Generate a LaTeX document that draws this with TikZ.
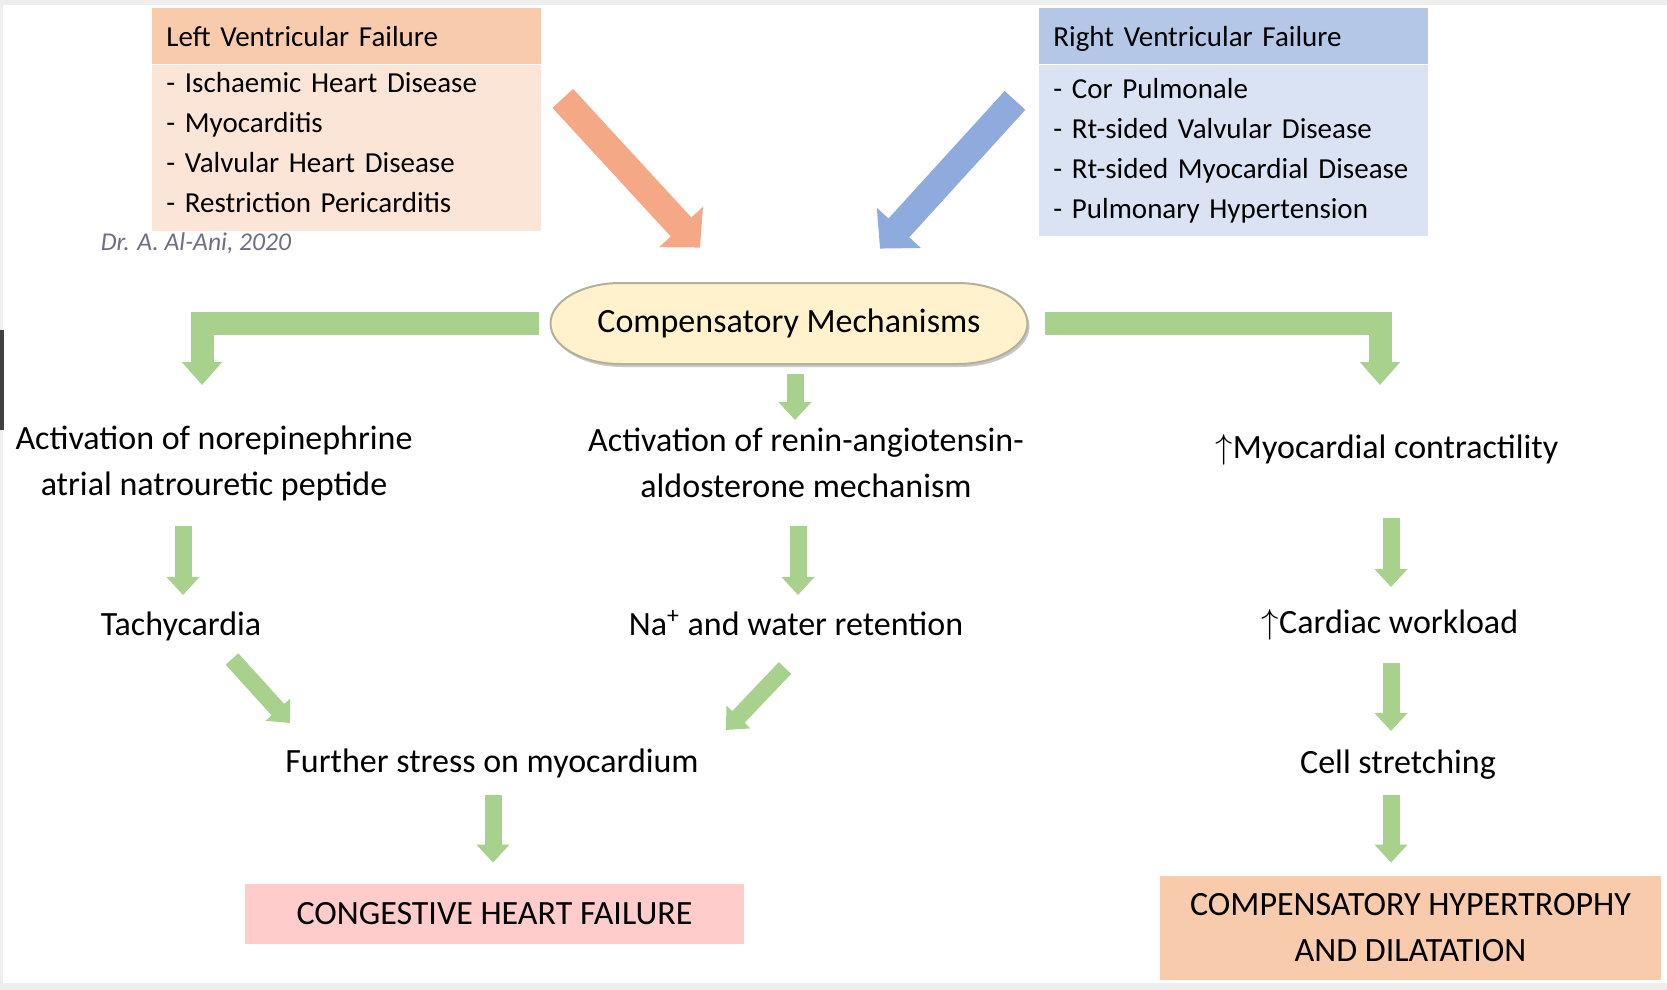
\documentclass[tikz,border=0pt]{standalone}
\usepackage{fontspec}
\setmainfont{Carlito}
\usetikzlibrary{positioning,arrows.meta}
\definecolor{lvhead}{HTML}{F8CBAD}
\definecolor{lvbody}{HTML}{FBE5D6}
\definecolor{rvhead}{HTML}{B4C7E7}
\definecolor{rvbody}{HTML}{DAE3F3}
\definecolor{lvarrow}{HTML}{F4A886}
\definecolor{rvarrow}{HTML}{8FAADC}
\definecolor{grarrow}{HTML}{A9D18E}
\definecolor{mechfill}{HTML}{FFF2CC}
\definecolor{mechline}{HTML}{B5B09A}
\definecolor{chffill}{HTML}{FFCCCC}
\definecolor{chdfill}{HTML}{F8CBAD}
\definecolor{sigcol}{HTML}{6F6F82}
\definecolor{slidebg}{HTML}{EEEEEE}
\tikzset{listbox/.style={anchor=north west, text width=180.5pt, minimum height=83pt, inner xsep=7pt, inner ysep=0pt, align=left, font=\fontsize{14.5}{20}\selectfont},
         headbox/.style={listbox, minimum height=28pt, text height=12.5pt, text depth=2.5pt},
         stage/.style={align=center, font=\fontsize{17}{23}\selectfont},
         mechbox/.style={stage, minimum width=238.5pt, minimum height=40.5pt},
         endbox/.style={stage, minimum width=249.5pt, minimum height=30pt},
         fatarrow/.style={line width=14pt, -{Triangle[length=14pt,width=29pt]}},
         barrow/.style={draw=grarrow, line width=11.5pt, -{Triangle[length=11.5pt,width=19.5pt]}},
         sarrow/.style={draw=grarrow, line width=8.5pt, -{Triangle[length=9pt,width=16pt]}}}

\begin{document}
\begin{tikzpicture}[x=0.5pt,y=-0.5pt]
    \useasboundingbox (0,0) rectangle (1667,990);
    \fill[slidebg] (0,0) rectangle (1667,990);
    \fill[white] (3,5) rectangle (1667,983);
    \fill[black!75] (0,330) rectangle (4,430);

    % causes
    \node[headbox, fill=lvhead]                                  (lvfh) at (152,8) {Left Ventricular Failure};
    \node[listbox, fill=lvbody, below=0pt of lvfh.south west, anchor=north west] (lvfb) {- Ischaemic Heart Disease\\- Myocarditis\\- Valvular Heart Disease\\- Restriction Pericarditis\rule[-5.5pt]{0pt}{0pt}};
    \node[headbox, fill=rvhead]                                  (rvfh) at (1039,8) {Right Ventricular Failure};
    \node[listbox, fill=rvbody, minimum height=85.5pt, below=0pt of rvfh.south west, anchor=north west] (rvfb) {- Cor Pulmonale\\- Rt-sided Valvular Disease\\- Rt-sided Myocardial Disease\\- Pulmonary Hypertension};
    \node[font=\fontsize{12.8}{14}\selectfont\itshape, text=sigcol] (sig) at (196,243) {Dr. A. Al-Ani, 2020};

    % oval with flat top and bottom
    \draw[draw=mechline, fill=mechfill, line width=1pt,
          preaction={fill=black, opacity=0.22, transform canvas={xshift=1pt, yshift=-1.5pt}}]
        (620.5,283) -- (957.5,283) arc[start angle=90, end angle=-90, x radius=35pt, y radius=20.25pt]
        -- (620.5,364) arc[start angle=270, end angle=90, x radius=35pt, y radius=20.25pt] -- cycle;
    \node[mechbox]                          (mech)   at (789,323.5)  {Compensatory Mechanisms};

    % mechanisms
    \node[stage]                            (nore)   at (214,463)    {Activation of norepinephrine\\atrial natrouretic peptide};
    \node[stage]                            (renin)  at (806,463)    {Activation of renin-angiotensin-\\aldosterone mechanism};
    \node[stage]                            (myo)    at (1387,450)   {$\uparrow$Myocardial contractility};
    \node[stage]                            (tachy)  at (181,626)    {Tachycardia};
    \node[stage]                            (na)     at (796,623)    {Na\textsuperscript{+} and water retention};
    \node[stage]                            (work)   at (1390,625)   {$\uparrow$Cardiac workload};
    \node[stage]                            (stress) at (492,763)    {Further stress on myocardium};
    \node[stage]                            (cell)   at (1398,765)   {Cell stretching};
    \node[endbox, fill=chffill]             (chf)    at (494.5,914)  {CONGESTIVE HEART FAILURE};
    \node[endbox, fill=chdfill, minimum width=250.5pt, minimum height=52pt] (chd) at (1410.5,928) {COMPENSATORY HYPERTROPHY\\AND DILATATION};

    \draw[fatarrow, draw=lvarrow] ([shift={(21,62)}]lvfh.east)  -- ([shift={(-89,-35)}]mech.north);
    \draw[fatarrow, draw=rvarrow] ([shift={(-24,64)}]rvfh.west) -- ([shift={(91,-34)}]mech.north);

    \draw[barrow] ([shift={(-11,0)}]mech.west) -| ([shift={(-12,-78)}]nore.center);
    \draw[barrow] ([shift={(17,0)}]mech.east)  -| ([shift={(-7,-65)}]myo.center);

    \draw[sarrow] ([shift={(6,10)}]mech.south)     -- ([shift={(-11,-43)}]renin.center);
    \draw[sarrow] ([shift={(-31,63)}]nore.center)  -- ([shift={(2,-31)}]tachy.center);
    \draw[sarrow] ([shift={(-8,63)}]renin.center)  -- ([shift={(2,-28)}]na.center);
    \draw[sarrow] ([shift={(4,68)}]myo.center)     -- ([shift={(1,-38)}]work.center);
    \draw[sarrow] ([shift={(51,33)}]tachy.center)  -- ([shift={(-202,-40)}]stress.center);
    \draw[sarrow] ([shift={(-11,45)}]na.center)    -- ([shift={(234,-33)}]stress.center);
    \draw[sarrow] ([shift={(1,38)}]work.center)    -- ([shift={(-7,-34)}]cell.center);
    \draw[sarrow] ([shift={(1,32)}]stress.center)  -- ([shift={(-1.5,-21)}]chf.north);
    \draw[sarrow] ([shift={(-7,30)}]cell.center)   -- ([shift={(-19.5,-13)}]chd.north);
\end{tikzpicture}
\end{document}
